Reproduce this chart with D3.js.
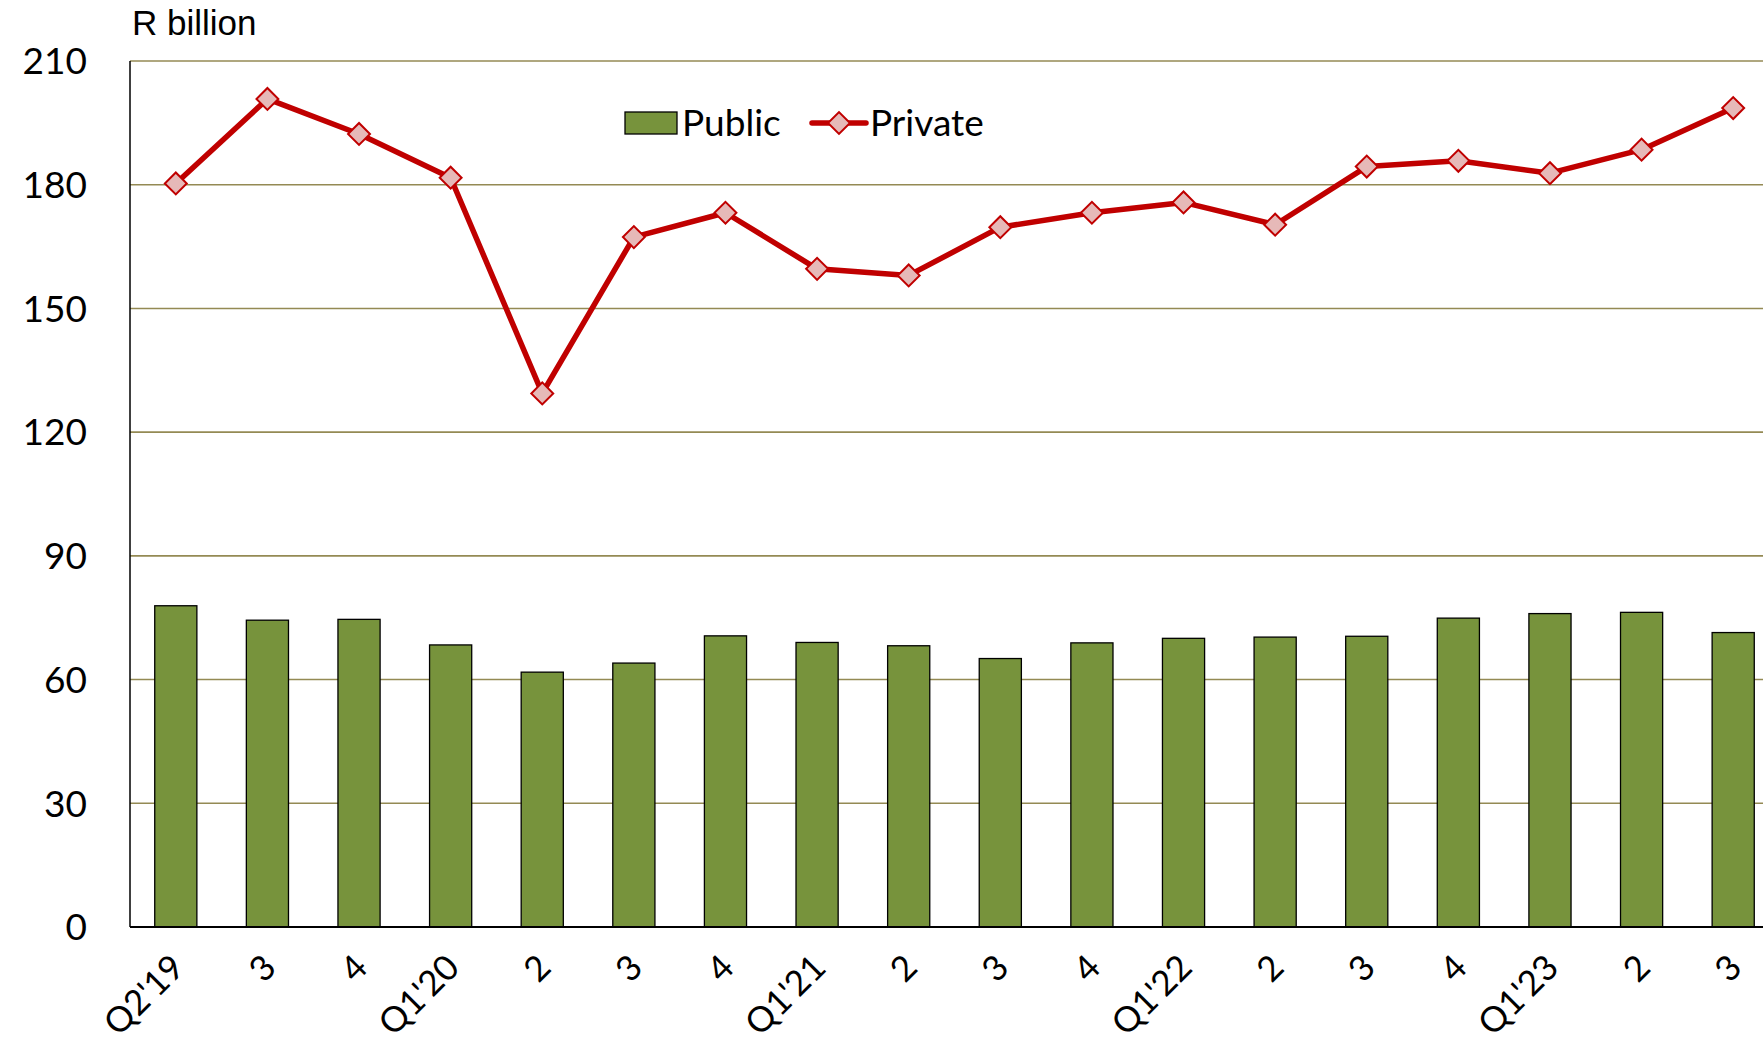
<!DOCTYPE html>
<html>
<head>
<meta charset="utf-8">
<script src="https://cdn.jsdelivr.net/npm/d3@7"></script>
<style>
  html, body { margin: 0; padding: 0; background: #fff; overflow: hidden; }
  svg { display: block; }
</style>
</head>
<body>
<div id="chart"></div>
<script>
const quarters = ["Q2'19", "3", "4", "Q1'20", "2", "3", "4", "Q1'21", "2", "3", "4", "Q1'22", "2", "3", "4", "Q1'23", "2", "3"];
const publicValues = [77.9, 74.4, 74.6, 68.4, 61.8, 64.0, 70.6, 69.0, 68.2, 65.1, 68.9, 70.0, 70.3, 70.5, 74.9, 76.0, 76.3, 71.4];
const privateValues = [180.3, 200.8, 192.3, 181.7, 129.4, 167.3, 173.2, 159.6, 158.0, 169.7, 173.2, 175.7, 170.3, 184.4, 185.8, 182.8, 188.5, 198.6];
const yTicks = [0, 30, 60, 90, 120, 150, 180, 210];

document.addEventListener("DOMContentLoaded", function () {
    const width = 1763, height = 1043;
    const plot = { left: 130, top: 61, bottom: 927, right: 1779 };
    const tickFont = "Lato, 'Noto Sans', sans-serif";

    const svg = d3.select("#chart").append("svg").attr("width", width).attr("height", height);

    const x = d3.scaleBand().domain(d3.range(quarters.length)).range([plot.left, plot.right])
        .paddingInner(0.54).paddingOuter(0.27);
    const y = d3.scaleLinear().domain([0, 210]).range([plot.bottom, plot.top]);

    // gridlines
    svg.append("g").selectAll("line")
        .data(yTicks.filter(d => d > 0))
        .join("line")
        .attr("x1", plot.left).attr("x2", width)
        .attr("y1", d => y(d)).attr("y2", d => y(d))
        .attr("stroke", "#948a54").attr("stroke-width", 1.6);

    // y tick labels
    svg.append("g").selectAll("text")
        .data(yTicks)
        .join("text")
        .attr("x", 87).attr("y", d => y(d))
        .attr("dy", "0.36em")
        .attr("text-anchor", "end")
        .attr("font-family", tickFont).attr("font-size", 37)
        .text(d => d);

    svg.append("text")
        .attr("x", 132).attr("y", 35)
        .attr("font-family", "'Liberation Sans', Arial, sans-serif").attr("font-size", 35)
        .text("R billion");

    // bars
    svg.append("g").selectAll("rect")
        .data(publicValues)
        .join("rect")
        .attr("x", (d, i) => x(i))
        .attr("y", d => y(d))
        .attr("width", x.bandwidth())
        .attr("height", d => y(0) - y(d))
        .attr("fill", "#77933c")
        .attr("stroke", "#000").attr("stroke-width", 1.3);

    // axes lines
    svg.append("line").attr("x1", plot.left).attr("x2", plot.left).attr("y1", plot.top).attr("y2", plot.bottom)
        .attr("stroke", "#000").attr("stroke-width", 1.5);
    svg.append("line").attr("x1", plot.left).attr("x2", width).attr("y1", plot.bottom).attr("y2", plot.bottom)
        .attr("stroke", "#000").attr("stroke-width", 2);

    // x labels
    svg.append("g").selectAll("text")
        .data(quarters)
        .join("text")
        .attr("transform", (d, i) => `translate(${x(i) + x.bandwidth() / 2 + 2}, ${plot.bottom + 34}) rotate(-45)`)
        .attr("text-anchor", "end")
        .attr("dy", "0.35em")
        .attr("font-family", tickFont).attr("font-size", 35)
        .text(d => d);

    // private line
    const cx = i => x(i) + x.bandwidth() / 2;
    const line = d3.line().x((d, i) => cx(i)).y(d => y(d));
    svg.append("path")
        .datum(privateValues)
        .attr("d", line)
        .attr("fill", "none")
        .attr("stroke", "#c00000").attr("stroke-width", 5.5)
        .attr("stroke-linejoin", "round");

    const diamond = d3.symbol().type(d3.symbolSquare).size(240);
    svg.append("g").selectAll("path")
        .data(privateValues)
        .join("path")
        .attr("d", diamond)
        .attr("transform", (d, i) => `translate(${cx(i)}, ${y(d)}) rotate(45)`)
        .attr("fill", "#e6b9b8")
        .attr("stroke", "#c00000").attr("stroke-width", 2);

    // legend
    const legend = svg.append("g");
    legend.append("rect").attr("x", 625).attr("y", 112).attr("width", 52).attr("height", 22)
        .attr("fill", "#77933c").attr("stroke", "#000").attr("stroke-width", 1.3);
    legend.append("text").attr("x", 682).attr("y", 123).attr("dy", "0.36em")
        .attr("font-family", tickFont).attr("font-size", 37).text("Public");
    legend.append("line").attr("x1", 812).attr("x2", 866).attr("y1", 123).attr("y2", 123)
        .attr("stroke", "#c00000").attr("stroke-width", 5.5).attr("stroke-linecap", "round");
    legend.append("path").attr("d", diamond)
        .attr("transform", "translate(839, 123) rotate(45)")
        .attr("fill", "#e6b9b8").attr("stroke", "#c00000").attr("stroke-width", 2);
    legend.append("text").attr("x", 870).attr("y", 123).attr("dy", "0.36em")
        .attr("font-family", tickFont).attr("font-size", 37).text("Private");
});
</script>
</body>
</html>
